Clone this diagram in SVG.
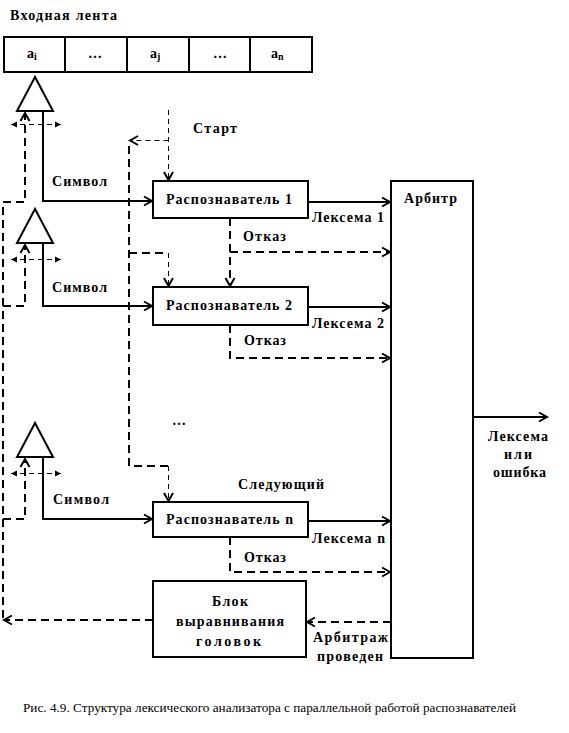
<svg xmlns="http://www.w3.org/2000/svg" width="569" height="733" viewBox="0 0 569 733">
<defs>
<style>
.t{font-family:'Liberation Serif','Times New Roman',serif;font-weight:bold;font-size:14px;fill:#000}
.cap{font-family:'Liberation Serif','Times New Roman',serif;font-size:13px;fill:#000}
.box{fill:#fff;stroke:#000;stroke-width:2}
.s{fill:none;stroke:#000;stroke-width:2}
.d{fill:none;stroke:#000;stroke-width:2;stroke-dasharray:8 5}
.dt{fill:none;stroke:#000;stroke-width:1;stroke-dasharray:5 4}
</style>
<marker id="arr" markerUnits="userSpaceOnUse" markerWidth="12" markerHeight="12" refX="10" refY="6" orient="auto">
<path d="M2,1.5 L10,6 L2,10.5" fill="none" stroke="#000" stroke-width="2" stroke-dasharray="none"/>
</marker>
<marker id="sarr" markerUnits="userSpaceOnUse" markerWidth="8" markerHeight="8" refX="7" refY="4" orient="auto-start-reverse">
<path d="M1,1 L7,4 L1,7 Z" fill="#000" stroke="none"/>
</marker>
</defs>

<text class="t" x="10" y="20" textLength="107" lengthAdjust="spacing">Входная лента</text>

<g id="tape">
<rect class="box" x="4" y="37" width="308" height="35"/>
<line class="s" x1="65" y1="37" x2="65" y2="72"/>
<line class="s" x1="127" y1="37" x2="127" y2="72"/>
<line class="s" x1="189" y1="37" x2="189" y2="72"/>
<line class="s" x1="250" y1="37" x2="250" y2="72"/>
<text class="t" x="27" y="58">a<tspan font-size="10" dy="2">i</tspan></text>
<text class="t" x="88" y="58">…</text>
<text class="t" x="150" y="58">a<tspan font-size="10" dy="2">j</tspan></text>
<text class="t" x="213" y="58">…</text>
<text class="t" x="271" y="58">a<tspan font-size="10" dy="2">n</tspan></text>
</g>

<g id="head1"><polygon class="box" points="35,77 17,111 53,111"/></g>
<g id="head2"><polygon class="box" points="35,209 17,243 53,243"/></g>
<g id="head3"><polygon class="box" points="35,423 17,457 53,457"/></g>

<g id="rec1">
<rect class="box" x="153" y="181" width="155" height="37"/>
<text class="t" x="166" y="204" textLength="126" lengthAdjust="spacing">Распознаватель 1</text>
</g>
<g id="rec2">
<rect class="box" x="153" y="287" width="155" height="38"/>
<text class="t" x="166" y="310" textLength="126" lengthAdjust="spacing">Распознаватель 2</text>
</g>
<g id="recn">
<rect class="box" x="153" y="502" width="155" height="35"/>
<text class="t" x="166" y="524" textLength="127" lengthAdjust="spacing">Распознаватель n</text>
</g>
<g id="arbiter">
<rect class="box" x="391" y="181" width="82" height="477"/>
<text class="t" x="404" y="203" textLength="53" lengthAdjust="spacing">Арбитр</text>
</g>
<g id="align">
<rect class="box" x="153" y="581" width="153" height="76"/>
<text class="t" x="212" y="606" textLength="36" lengthAdjust="spacing">Блок</text>
<text class="t" x="176" y="626" textLength="108" lengthAdjust="spacing">выравнивания</text>
<text class="t" x="196" y="646" textLength="65" lengthAdjust="spacing">головок</text>
</g>

<g id="connectors">
<path class="s" d="M43,111 V201 H152" marker-end="url(#arr)"/>
<path class="s" d="M43,243 V306 H152" marker-end="url(#arr)"/>
<path class="s" d="M43,457 V519 H152" marker-end="url(#arr)"/>

<path class="d" d="M3,618 V202 H25 V113" marker-end="url(#arr)"/>
<path class="d" d="M3,306 H25 V245" marker-end="url(#arr)"/>
<path class="d" d="M3,519 H25 V459" marker-end="url(#arr)"/>
<path class="dt" d="M11,124.5 H61" marker-start="url(#sarr)" marker-end="url(#sarr)"/>
<path class="dt" d="M11,259.5 H61" marker-start="url(#sarr)" marker-end="url(#sarr)"/>
<path class="dt" d="M11,473.5 H61" marker-start="url(#sarr)" marker-end="url(#sarr)"/>

<path class="dt" d="M168.5,110 V180" marker-end="url(#arr)"/>
<path class="dt" d="M168.5,140.5 H130" marker-end="url(#arr)"/>
<path class="d" d="M129,146 V466 H168"/>
<path class="dt" d="M168.5,466 V501" marker-end="url(#arr)"/>
<path class="d" d="M129,253 H168"/>
<path class="dt" d="M168.5,253 V286" marker-end="url(#arr)"/>

<path class="s" d="M308,202 H390" marker-end="url(#arr)"/>
<path class="s" d="M308,307 H390" marker-end="url(#arr)"/>
<path class="s" d="M308,521 H390" marker-end="url(#arr)"/>

<path class="d" d="M230,218 V286" marker-end="url(#arr)"/>
<path class="d" d="M230,252 H390" marker-end="url(#arr)"/>
<path class="d" d="M230,325 V358 H390" marker-end="url(#arr)"/>
<path class="d" d="M230,537 V572 H390" marker-end="url(#arr)"/>

<path class="s" d="M473,417 H547" marker-end="url(#arr)"/>
<path class="d" d="M391,622 H307" marker-end="url(#arr)"/>
<path class="d" d="M153,620 H4" marker-end="url(#arr)"/>
</g>

<g id="labels">
<text class="t" x="193" y="133" textLength="44" lengthAdjust="spacing">Старт</text>
<text class="t" x="52" y="186" textLength="55" lengthAdjust="spacing">Символ</text>
<text class="t" x="52" y="292" textLength="55" lengthAdjust="spacing">Символ</text>
<text class="t" x="53" y="504" textLength="56" lengthAdjust="spacing">Символ</text>
<text class="t" x="243" y="241" textLength="43" lengthAdjust="spacing">Отказ</text>
<text class="t" x="244" y="345" textLength="42" lengthAdjust="spacing">Отказ</text>
<text class="t" x="244" y="562" textLength="42" lengthAdjust="spacing">Отказ</text>
<text class="t" x="312" y="222" textLength="72" lengthAdjust="spacing">Лексема 1</text>
<text class="t" x="312" y="328" textLength="72" lengthAdjust="spacing">Лексема 2</text>
<text class="t" x="312" y="543" textLength="73" lengthAdjust="spacing">Лексема n</text>
<text class="t" x="172" y="425" textLength="20" lengthAdjust="spacing">…</text>
<text class="t" x="238" y="489" textLength="86" lengthAdjust="spacing">Следующий</text>
<text class="t" x="488" y="441" textLength="60" lengthAdjust="spacing">Лексема</text>
<text class="t" x="504" y="459" textLength="28" lengthAdjust="spacing">или</text>
<text class="t" x="493" y="477" textLength="53" lengthAdjust="spacing">ошибка</text>
<text class="t" x="313" y="642" textLength="75" lengthAdjust="spacing">Арбитраж</text>
<text class="t" x="317" y="661" textLength="66" lengthAdjust="spacing">проведен</text>
</g>

<text class="cap" x="23" y="712" textLength="493" lengthAdjust="spacingAndGlyphs">Рис. 4.9. Структура лексического анализатора с параллельной работой распознавателей</text>
</svg>
